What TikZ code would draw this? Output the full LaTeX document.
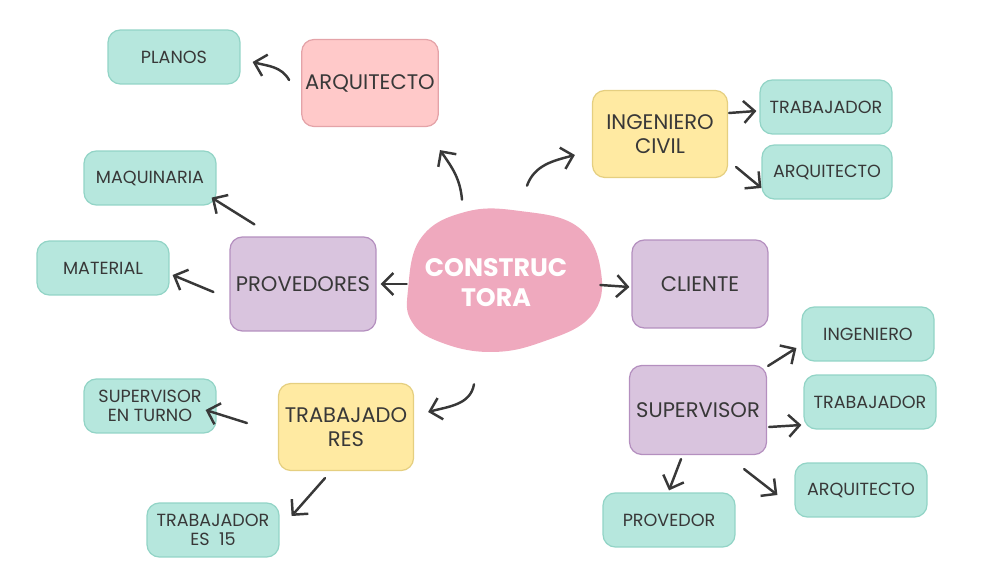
\documentclass[tikz,border=0pt]{standalone}
\usepackage{fontspec}
\setmainfont{Poppins}
\usetikzlibrary{arrows.meta,shapes,positioning,calc}

\definecolor{ink}{HTML}{383838}
\definecolor{tealfill}{HTML}{B6E7DD}
\definecolor{tealline}{HTML}{92D4C6}
\definecolor{lilafill}{HTML}{D9C4DE}
\definecolor{lilaline}{HTML}{B48FBF}
\definecolor{yelfill}{HTML}{FFEAA2}
\definecolor{yelline}{HTML}{E5CF80}
\definecolor{pinkfill}{HTML}{FFC9C9}
\definecolor{pinkline}{HTML}{E4A3A8}
\definecolor{blobfill}{HTML}{EFA9BE}

\tikzset{
  box/.style={draw, rounded corners=7pt, line width=0.7pt, align=center,
    text=ink, inner sep=2pt},
  leaf/.style={box, fill=tealfill, draw=tealline, font=\normalsize,
    minimum width=2.64cm, minimum height=1.08cm},
  lila/.style={box, fill=lilafill, draw=lilaline, font=\large,
    minimum width=2.72cm, minimum height=1.76cm},
  yel/.style={box, fill=yelfill, draw=yelline, font=\large,
    minimum width=2.7cm, minimum height=1.74cm},
  arr/.style={draw=ink, line width=1.4pt, line cap=round,
    -{Straight Barb[length=2.2mm,width=4.4mm]}}
}

\begin{document}
\begin{tikzpicture}[x=0.02cm,y=-0.02cm]

      % frame (pixel units)
      \useasboundingbox (0,0) rectangle (1007,567);

      % central blob
      \fill[blobfill] plot[smooth cycle, tension=0.7] coordinates {
        (408,290) (421,238) (465,212) (520,211) (578,227) (601,272)
        (591,316) (542,342) (490,352) (440,342) (412,322)};
      \node[minimum width=3.84cm, minimum height=2.84cm, align=center,
        text=white, font=\Large\bfseries] (ctr) at (496,283)
        {CONSTRUC\\[-1pt]TORA};

      % first ring
      \node[box, fill=pinkfill, draw=pinkline, font=\large,
        minimum width=2.7cm, minimum height=1.74cm] (arq) at (370,83)
        {ARQUITECTO};
      \node[yel] (ingc) at (660,134) {INGENIERO\\CIVIL};
      \node[lila, minimum width=2.92cm, minimum height=1.88cm] (prov)
        at (303,284) {PROVEDORES};
      \node[lila] (cli) at (700,284) {CLIENTE};
      \node[yel] (trabs) at (346,427) {TRABAJADO\\RES};
      \node[lila, minimum width=2.74cm, minimum height=1.78cm] (sup)
        at (698,410) {SUPERVISOR};

      % leaves
      \node[leaf] (planos) at (174,57) {PLANOS};
      \node[leaf] (trabA) at (826,107) {TRABAJADOR};
      \node[leaf, minimum width=2.6cm] (arqA) at (827,172) {ARQUITECTO};
      \node[leaf] (maq) at (150,178) {MAQUINARIA};
      \node[leaf] (mat) at (103,268) {MATERIAL};
      \node[leaf] (ing) at (868,334) {INGENIERO};
      \node[leaf] (trabB) at (870,402) {TRABAJADOR};
      \node[leaf] (arqB) at (861,490) {ARQUITECTO};
      \node[leaf] (provr) at (669,520) {PROVEDOR};
      \node[leaf] (supt) at (150,406) {SUPERVISOR\\[-1pt]EN TURNO};
      \node[leaf] (tquince) at (213,530) {TRABAJADOR\\[-1pt]ES\ \ 15};

      % curved arrows
      \draw[arr] ($(arq.west)+(-12,-3)$) to[out=120,in=-15]
        ($(planos.east)+(12,5)$);
      \draw[arr] ($(ctr.north)+(-34,-12)$) to[out=95,in=-55]
        ($(arq.south)+(70,23)$);
      \draw[arr] ($(ctr.north)+(31,-26)$) to[out=70,in=195]
        ($(ingc.west)+(-17,21)$);
      \draw[arr] ($(ctr.south)+(-22,30)$) to[out=-100,in=15]
        ($(trabs.east)+(14,-15)$);

      % straight arrows
      \draw[arr] ($(ingc.east)+(1,-21)$) -- ($(trabA.west)+(-3,4)$);
      \draw[arr] ($(ingc.east)+(8,33)$) -- ($(arqA.west)+(0,16)$);
      \draw[arr] ($(prov.north west)+(25,-12)$) -- ($(maq.south east)+(-5,-8)$);
      \draw[arr] ($(prov.west)+(-16,8)$) -- ($(mat.east)+(3,7)$);
      \draw[arr] ($(ctr.west)+(7,1)$) -- ($(prov.east)+(4,0)$);
      \draw[arr] ($(ctr.east)+(8,2)$) -- ($(cli.west)+(-2,3)$);
      \draw[arr] ($(trabs.west)+(-31,-4)$) -- ($(supt.east)+(-11,4)$);
      \draw[arr] ($(trabs.south)+(-21,7)$) -- ($(tquince.east)+(12,-14)$);
      \draw[arr] ($(sup.north east)+(1,1)$) -- ($(ing.west)+(-5,14)$);
      \draw[arr] ($(sup.east)+(2,17)$) -- ($(trabB.west)+(-2,23)$);
      \draw[arr] ($(sup.south)+(-17,4)$) -- ($(provr.north)+(0,-2)$);
      \draw[arr] ($(sup.south east)+(-23,14)$) -- ($(arqB.west)+(-17,5)$);

\end{tikzpicture}
\end{document}
